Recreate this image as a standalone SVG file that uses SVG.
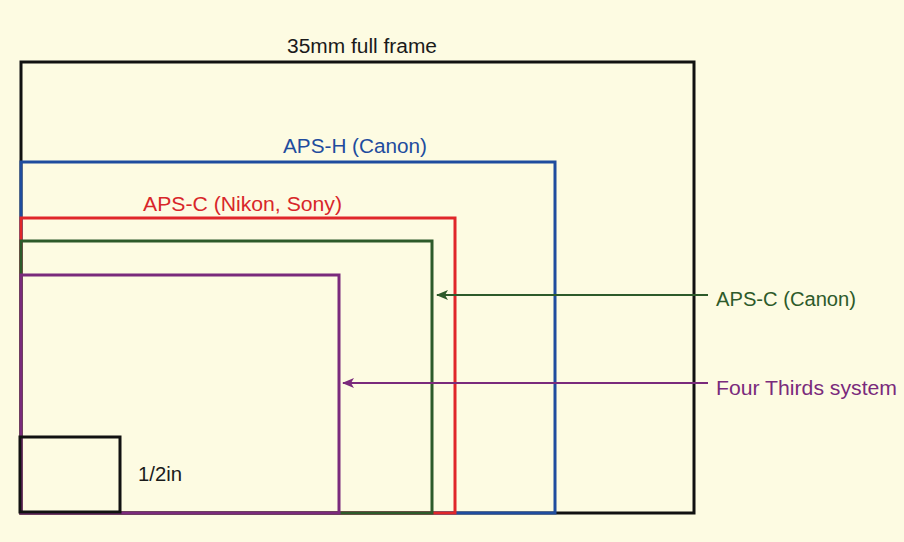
<svg xmlns="http://www.w3.org/2000/svg" width="904" height="542" viewBox="0 0 904 542">
<defs>
<style>
.f{fill:none;stroke-width:3;stroke-linejoin:miter}
.t{font-family:"Liberation Sans","DejaVu Sans",sans-serif;font-size:20px}
</style>
<marker id="ag" viewBox="0 0 12 10" refX="11" refY="5" markerWidth="12" markerHeight="10" markerUnits="userSpaceOnUse" orient="auto"><path d="M0,0 L12,5 L0,10 L3,5 Z" fill="#2d5a2a"/></marker>
<marker id="ap" viewBox="0 0 12 10" refX="11" refY="5" markerWidth="12" markerHeight="10" markerUnits="userSpaceOnUse" orient="auto"><path d="M0,0 L12,5 L0,10 L3,5 Z" fill="#7a2a7c"/></marker>
</defs>
<rect width="904" height="542" fill="#fdfbe2"/>
<g id="full-frame">
<rect class="f" x="21" y="62" width="673" height="451" stroke="#111"/>
<text class="t" x="287" y="53" textLength="150" lengthAdjust="spacingAndGlyphs" fill="#1a1a1a">35mm full frame</text>
</g>
<g id="aps-h">
<rect class="f" x="21" y="162" width="534" height="351" stroke="#1f4c9e"/>
<text class="t" x="283" y="153" textLength="144" lengthAdjust="spacingAndGlyphs" fill="#1f4c9e">APS-H (Canon)</text>
</g>
<g id="aps-c-nikon">
<rect class="f" x="21" y="218" width="434" height="295" stroke="#e0262a"/>
<text class="t" x="143" y="211" textLength="199" lengthAdjust="spacingAndGlyphs" fill="#d8262a">APS-C (Nikon, Sony)</text>
</g>
<g id="aps-c-canon">
<rect class="f" x="21" y="241" width="411" height="272" stroke="#2d5a2a"/>
<text class="t" x="716" y="306" textLength="140" lengthAdjust="spacingAndGlyphs" fill="#2d5a2a">APS-C (Canon)</text>
</g>
<g id="four-thirds">
<rect class="f" x="21" y="275" width="318" height="238" stroke="#7a2a7c"/>
<text class="t" x="716" y="395" textLength="181" lengthAdjust="spacingAndGlyphs" fill="#7a2a7c">Four Thirds system</text>
</g>
<g id="half-inch">
<rect class="f" x="20" y="437" width="100" height="75" stroke="#111"/>
<text class="t" x="138" y="481" textLength="44" lengthAdjust="spacingAndGlyphs" fill="#1a1a1a">1/2in</text>
</g>
<g id="connectors">
<line x1="708" y1="295" x2="437" y2="295" stroke="#2d5a2a" stroke-width="2" marker-end="url(#ag)"/>
<line x1="708" y1="383" x2="343" y2="383" stroke="#7a2a7c" stroke-width="2" marker-end="url(#ap)"/>
</g>
</svg>
